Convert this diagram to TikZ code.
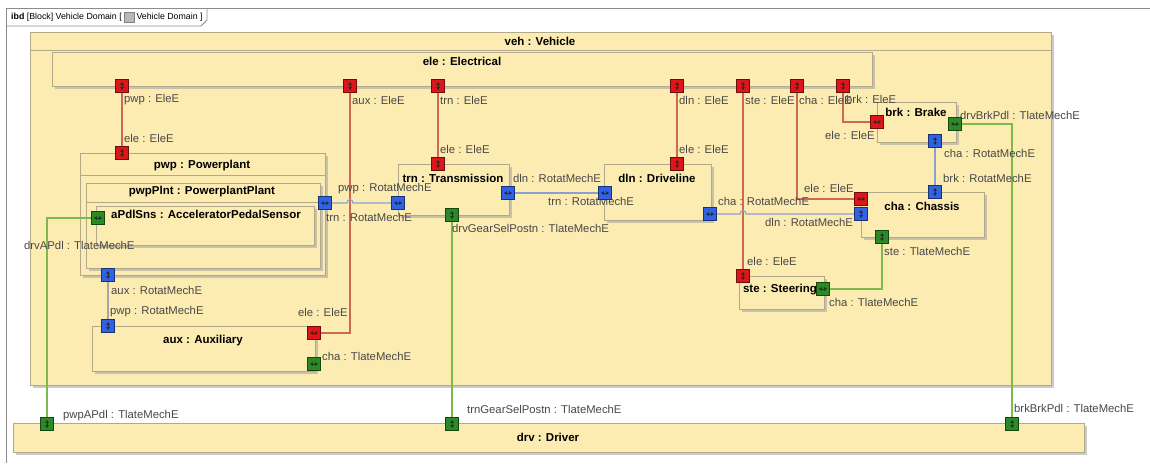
\documentclass[tikz,border=0pt]{standalone}
\usepackage{fontspec}
\setmainfont{Liberation Sans}
\usetikzlibrary{arrows.meta, positioning, fit, shadows}

\definecolor{blkfill}{RGB}{253,236,178}
\definecolor{blkline}{RGB}{178,168,138}
\definecolor{elered}{RGB}{222,22,26}
\definecolor{rotblue}{RGB}{48,98,228}
\definecolor{tlagreen}{RGB}{42,138,36}
\definecolor{redwire}{RGB}{205,105,80}
\definecolor{bluewire}{RGB}{140,158,210}
\definecolor{greenwire}{RGB}{125,185,75}

\pgfdeclarelayer{front}
\pgfsetlayers{main,front}

\begin{document}
\begin{tikzpicture}[x=1pt, y=-1pt,
  blk/.style={draw=blkline, fill=blkfill, line width=0.9pt, inner sep=0pt, outer sep=0pt,
              drop shadow={shadow xshift=2.5pt, shadow yshift=-2.5pt, fill=black!35, opacity=0.6}},
  ttl/.style={font=\fontsize{11.5}{13}\selectfont\bfseries, inner sep=0pt},
  lbl/.style={font=\fontsize{11.3}{13}\selectfont, text=black!72, anchor=west, inner sep=0pt},
  glyph/.style={{Triangle[length=2.6pt,width=3.4pt]}-{Triangle[length=2.6pt,width=3.4pt]},
                line width=0.2pt, draw=black!85},
  port/.style={minimum size=12.5pt, inner sep=0pt, outer sep=0pt, line width=0.6pt},
  pv/.style={port, path picture={\draw[glyph] ([yshift=3.8pt]path picture bounding box.center)
             -- ([yshift=-3.8pt]path picture bounding box.center);}},
  ph/.style={port, path picture={\draw[glyph] ([xshift=-3.8pt]path picture bounding box.center)
             -- ([xshift=3.8pt]path picture bounding box.center);}},
  ep/.style={fill=elered, draw=elered!50!black},
  rp/.style={fill=rotblue, draw=rotblue!50!black},
  tp/.style={fill=tlagreen, draw=tlagreen!50!black},
  ewire/.style={draw=redwire, line width=1.1pt},
  rwire/.style={draw=bluewire, line width=1.1pt},
  twire/.style={draw=greenwire, line width=1.1pt}
]
  \useasboundingbox (0,0) rectangle (1150,463);

  % diagram frame and tab
  \draw[black!45, line width=0.8pt] (1150,8) -- (6,8) -- (6,463);
  \draw[black!45, line width=0.8pt] (6,26) -- (201,26) -- (207,20) -- (207,8);
  \node[font=\fontsize{8.8}{10}\selectfont, anchor=west, inner sep=0pt] (tabA) at (11,17)
    {\textbf{ibd} [Block] Vehicle Domain [};
  \node[draw=black!50, fill=black!28, minimum size=10pt, inner sep=0pt, right=2pt of tabA] (tabIcon) {};
  \node[font=\fontsize{8.8}{10}\selectfont, inner sep=0pt, right=2pt of tabIcon] (tabB) {Vehicle Domain ]};

  % vehicle
  \node[blk, fit={(30,32) (1051,385)}] (veh) {};
  \draw[blkline, line width=0.9pt] (veh.west |- 0,50) -- (veh.east |- 0,50);
  \node[ttl] (vehName) at (540,41) {veh : Vehicle};

  % electrical
  \node[blk, fit={(52,52) (872,86)}] (ele) {};
  \node[ttl] (eleName) at (462,61) {ele : Electrical};

  % powerplant
  \node[blk, fit={(80,153) (325,275)}] (pwp) {};
  \draw[blkline, line width=0.9pt] (pwp.west |- 0,175) -- (pwp.east |- 0,175);
  \node[ttl] (pwpName) at (202,166) {pwp : Powerplant};
  \node[blk, fit={(86,183) (320,268)}] (pwpPlnt) {};
  \draw[blkline, line width=0.9pt] (pwpPlnt.west |- 0,202) -- (pwpPlnt.east |- 0,202);
  \node[ttl] (pwpPlntName) at (202,192) {pwpPlnt : PowerplantPlant};
  \node[blk, fit={(96,206) (314,245)}] (aPdlSns) {};
  \node[ttl, anchor=west] (aPdlSnsName) at (111,214) {aPdlSns : AcceleratorPedalSensor};

  % auxiliary
  \node[blk, fit={(92,326) (315,371)}] (aux) {};
  \node[ttl] (auxName) at (203,341) {aux : Auxiliary};

  % transmission, driveline
  \node[blk, fit={(398,164) (509,215)}] (trn) {};
  \node[ttl] (trnName) at (453,178) {trn : Transmission};
  \node[blk, fit={(604,164) (711,220)}] (dln) {};
  \node[ttl] (dlnName) at (657,178) {dln : Driveline};

  % chassis, steering, brake
  \node[blk, fit={(861,192) (984,237)}] (cha) {};
  \node[ttl] (chaName) at (922,206) {cha : Chassis};
  \node[blk, fit={(739,276) (824,309)}] (ste) {};
  \node[ttl] (steName) at (780,290) {ste : Steering};
  \node[blk, fit={(877,102) (956,142)}] (brk) {};
  \node[ttl] (brkName) at (916,112) {brk : Brake};

  % driver
  \node[blk, fit={(13,423) (1084,452)}] (drv) {};
  \node[ttl] (drvName) at (548,437) {drv : Driver};

  % ports
  \begin{pgfonlayer}{front}
    \node[pv, ep] (elePwp) at (122,86) {};
    \node[pv, ep] (eleAux) at (350,86) {};
    \node[pv, ep] (eleTrn) at (438,86) {};
    \node[pv, ep] (eleDln) at (677,86) {};
    \node[pv, ep] (eleSte) at (743,86) {};
    \node[pv, ep] (eleCha) at (797,86) {};
    \node[pv, ep] (eleBrk) at (843,86) {};
    \node[pv, ep] (pwpEle) at (122,153) {};
    \node[ph, rp] (pwpTrn) at (325,203) {};
    \node[pv, rp] (pwpAux) at (108,275) {};
    \node[ph, tp] (aPdlDrv) at (98,218) {};
    \node[ph, rp] (trnPwp) at (398,203) {};
    \node[pv, ep] (trnEle) at (438,164) {};
    \node[pv, tp] (trnDrv) at (452,215) {};
    \node[ph, rp] (trnDln) at (508,193) {};
    \node[pv, ep] (dlnEle) at (677,164) {};
    \node[ph, rp] (dlnTrn) at (605,193) {};
    \node[ph, rp] (dlnCha) at (710,214) {};
    \node[ph, ep] (chaEle) at (861,199) {};
    \node[pv, rp] (chaDln) at (861,214) {};
    \node[pv, rp] (chaBrk) at (935,192) {};
    \node[pv, tp] (chaSte) at (882,237) {};
    \node[pv, ep] (steEle) at (743,276) {};
    \node[ph, tp] (steCha) at (823,289) {};
    \node[ph, ep] (brkEle) at (877,122) {};
    \node[ph, tp] (brkDrv) at (955,124) {};
    \node[pv, rp] (brkCha) at (935,141) {};
    \node[pv, rp] (auxPwp) at (108,326) {};
    \node[ph, ep] (auxEle) at (314,333) {};
    \node[ph, tp] (auxCha) at (314,364) {};
    \node[pv, tp] (drvPwp) at (47,424) {};
    \node[pv, tp] (drvTrn) at (452,424) {};
    \node[pv, tp] (drvBrk) at (1012,424) {};
  \end{pgfonlayer}

  % electrical connectors
  \draw[ewire] (elePwp) -- (pwpEle);
  \draw[ewire] (eleAux) |- (auxEle);
  \draw[ewire] (eleTrn) -- (trnEle);
  \draw[ewire] (eleDln) -- (dlnEle);
  \draw[ewire] (eleSte) -- (steEle);
  \draw[ewire] (eleCha) |- (chaEle);
  \draw[ewire] (eleBrk) |- (brkEle);

  % rotational connectors
  \draw[rwire] (pwpTrn) -- (347,203) .. controls (347,198.5) and (353,198.5) .. (353,203) -- (trnPwp);
  \draw[rwire] (trnDln) -- (dlnTrn);
  \draw[rwire] (dlnCha) -- (740,214) .. controls (740,209.5) and (746,209.5) .. (746,214) -- (chaDln);
  \draw[rwire] (brkCha) -- (chaBrk);
  \draw[rwire, draw=black!35] (pwpAux) -- (auxPwp);

  % translational connectors
  \draw[twire] (aPdlDrv) -| (drvPwp);
  \draw[twire] (trnDrv) -- (drvTrn);
  \draw[twire] (steCha) -| (chaSte);
  \draw[twire] (brkDrv) -| (drvBrk);

  % port labels
  \node[lbl] (lElePwp) at (124,100) {pwp : EleE};
  \node[lbl] (lPwpEle) at (124,138) {ele : EleE};
  \node[lbl] (lEleAux) at (352,100) {aux : EleE};
  \node[lbl] (lEleTrn) at (440,100) {trn : EleE};
  \node[lbl] (lTrnEle) at (440,149) {ele : EleE};
  \node[lbl] (lEleDln) at (679,100) {dln : EleE};
  \node[lbl] (lDlnEle) at (679,149) {ele : EleE};
  \node[lbl] (lEleSte) at (745,100) {ste : EleE};
  \node[lbl] (lEleCha) at (799,100) {cha : EleE};
  \node[lbl] (lEleBrk) at (846,99) {brk : EleE};
  \node[lbl] (lBrkEle) at (825,135) {ele : EleE};
  \node[lbl] (lBrkDrv) at (960,115) {drvBrkPdl : TlateMechE};
  \node[lbl] (lBrkCha) at (944,153) {cha : RotatMechE};
  \node[lbl] (lChaBrk) at (943,178) {brk : RotatMechE};
  \node[lbl] (lChaEle) at (804,188) {ele : EleE};
  \node[lbl] (lDlnCha) at (718,201) {cha : RotatMechE};
  \node[lbl] (lChaDln) at (765,222) {dln : RotatMechE};
  \node[lbl] (lChaSte) at (884,251) {ste : TlateMechE};
  \node[lbl] (lSteEle) at (747,261) {ele : EleE};
  \node[lbl] (lSteCha) at (829,302) {cha : TlateMechE};
  \node[lbl] (lTrnDln) at (513,178) {dln : RotatMechE};
  \node[lbl] (lDlnTrn) at (548,201) {trn : RotatMechE};
  \node[lbl] (lTrnDrv) at (452,228) {drvGearSelPostn : TlateMechE};
  \node[lbl] (lTrnPwp) at (338,189) {pwp : RotatMechE};
  \node[lbl] (lPwpTrn) at (326,217) {trn : RotatMechE};
  \node[lbl] (lAPdlDrv) at (24,245) {drvAPdl : TlateMechE};
  \node[lbl] (lPwpAux) at (111,290) {aux : RotatMechE};
  \node[lbl] (lAuxPwp) at (110,312) {pwp : RotatMechE};
  \node[lbl] (lAuxEle) at (298,312) {ele : EleE};
  \node[lbl] (lAuxCha) at (322,356) {cha : TlateMechE};
  \node[lbl] (lDrvPwp) at (63,416) {pwpAPdl : TlateMechE};
  \node[lbl] (lDrvTrn) at (467,409) {trnGearSelPostn : TlateMechE};
  \node[lbl] (lDrvBrk) at (1014,408) {brkBrkPdl : TlateMechE};
\end{tikzpicture}
\end{document}
